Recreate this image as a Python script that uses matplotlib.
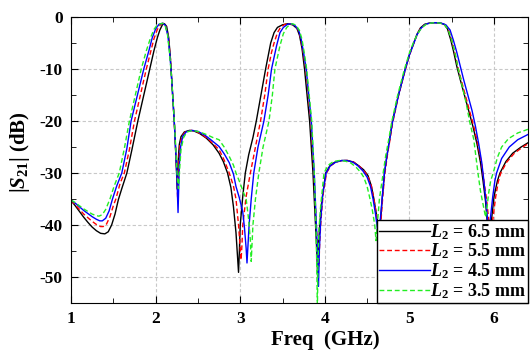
import matplotlib
matplotlib.use("Agg")
import matplotlib.pyplot as plt
from matplotlib.ticker import MultipleLocator

plt.rcParams.update({
    "font.family": "Liberation Serif",
    "font.weight": "bold",
    "axes.labelweight": "bold",
    "axes.unicode_minus": False,
    "mathtext.fontset": "custom",
    "mathtext.rm": "Liberation Serif:bold",
    "mathtext.it": "Liberation Serif:italic:bold",
    "mathtext.bf": "Liberation Serif:bold",
})

x_ticks = [1, 2, 3, 4, 5, 6]
x_ticklabels = ["1", "2", "3", "4", "5", "6"]
y_ticks = [-50, -40, -30, -20, -10, 0]
y_ticklabels = ["-50", "-40", "-30", "-20", "-10", "0"]

# |S21|, one list pair per L2 value
freq_65 = [1.00, 1.05, 1.10, 1.15, 1.20, 1.25, 1.30, 1.35, 1.40, 1.44, 1.48, 1.52, 1.56, 1.60, 1.66,
           1.72, 1.79, 1.86, 1.93, 1.98, 2.02, 2.05, 2.08, 2.105, 2.13, 2.155, 2.175, 2.19, 2.205, 2.22,
           2.235, 2.245, 2.255, 2.265, 2.28, 2.30, 2.34, 2.40, 2.45, 2.52, 2.60, 2.68, 2.75, 2.80, 2.85,
           2.89, 2.92, 2.95, 2.97, 2.98, 2.99, 3.00, 3.03, 3.06, 3.10, 3.15, 3.19, 3.25, 3.30, 3.36,
           3.40, 3.44, 3.50, 3.56, 3.62, 3.67, 3.70, 3.73, 3.76, 3.79, 3.82, 3.86, 3.89, 3.905, 3.915,
           3.925, 3.94, 3.96, 4.01, 4.06, 4.12, 4.20, 4.27, 4.34, 4.40, 4.46, 4.51, 4.55, 4.58, 4.61,
           4.63, 4.64, 4.645, 4.655, 4.68, 4.705, 4.735, 4.765, 4.80, 4.87, 4.95, 5.00, 5.05, 5.09, 5.13,
           5.18, 5.24, 5.30, 5.36, 5.41, 5.45, 5.49, 5.52, 5.56, 5.60, 5.65, 5.70, 5.75, 5.80, 5.84,
           5.87, 5.90, 5.92, 5.945, 5.97, 6.00, 6.04, 6.07, 6.14, 6.22, 6.32, 6.40]
s21_65 = [-35.3, -36.3, -37.4, -38.5, -39.5, -40.4, -41.1, -41.6, -41.7, -41.3, -40.0, -37.9, -35.1, -33.0, -30.0,
          -25.5, -20.0, -15.0, -10.0, -6.5, -4.0, -2.5, -1.5, -1.3, -1.8, -4.0, -8.0, -12.0, -16.0, -20.0,
          -25.0, -29.0, -33.0, -28.0, -24.5, -23.0, -22.1, -21.8, -21.9, -22.4, -23.3, -24.6, -26.2, -27.8, -30.0,
          -32.8, -36.5, -41.5, -46.5, -49.1, -45.0, -40.0, -34.5, -30.0, -26.5, -23.2, -20.0, -14.5, -10.0, -5.0,
          -3.0, -2.0, -1.5, -1.3, -1.5, -2.2, -3.5, -6.0, -10.0, -15.0, -20.0, -30.0, -40.0, -45.0, -50.0,
          -44.0, -40.0, -36.0, -30.0, -28.6, -27.9, -27.6, -27.6, -27.9, -28.6, -29.4, -30.5, -32.5, -35.0, -38.0,
          -40.0, -44.0, -48.0, -40.0, -34.5, -30.0, -26.6, -23.6, -20.0, -15.0, -10.0, -7.2, -5.0, -3.3, -2.1,
          -1.4, -1.15, -1.1, -1.15, -1.4, -2.3, -4.5, -6.5, -9.5, -12.0, -15.0, -18.0, -21.0, -24.5, -28.0,
          -31.5, -35.5, -39.5, -44.0, -39.0, -34.5, -31.5, -30.0, -27.8, -26.2, -25.0, -24.2]

freq_55 = [1.00, 1.05, 1.10, 1.15, 1.20, 1.25, 1.30, 1.35, 1.38, 1.42, 1.46, 1.50, 1.53, 1.58, 1.63,
           1.69, 1.75, 1.82, 1.89, 1.94, 1.98, 2.02, 2.06, 2.09, 2.12, 2.15, 2.175, 2.19, 2.205, 2.22,
           2.235, 2.25, 2.26, 2.27, 2.285, 2.31, 2.35, 2.42, 2.48, 2.55, 2.63, 2.70, 2.75, 2.81, 2.87,
           2.92, 2.95, 2.98, 3.00, 3.01, 3.02, 3.03, 3.07, 3.12, 3.18, 3.24, 3.29, 3.33, 3.37, 3.40,
           3.44, 3.48, 3.53, 3.58, 3.63, 3.68, 3.71, 3.74, 3.775, 3.805, 3.835, 3.87, 3.90, 3.915, 3.93,
           3.94, 3.955, 3.98, 4.02, 4.07, 4.13, 4.20, 4.27, 4.34, 4.40, 4.46, 4.51, 4.55, 4.58, 4.61,
           4.63, 4.645, 4.66, 4.685, 4.71, 4.74, 4.77, 4.80, 4.87, 4.95, 5.00, 5.05, 5.09, 5.13, 5.18,
           5.24, 5.30, 5.36, 5.42, 5.46, 5.50, 5.53, 5.57, 5.61, 5.66, 5.71, 5.76, 5.81, 5.85, 5.88,
           5.915, 5.94, 5.96, 5.985, 6.02, 6.05, 6.08, 6.15, 6.24, 6.34, 6.40]
s21_55 = [-35.3, -36.1, -37.0, -37.9, -38.6, -39.3, -39.9, -40.3, -40.3, -39.8, -38.4, -36.3, -35.0, -32.0, -30.0,
          -25.5, -20.0, -15.0, -10.0, -6.8, -4.2, -2.4, -1.4, -1.2, -1.7, -3.8, -8.0, -12.0, -16.0, -20.0,
          -25.0, -30.0, -34.8, -29.0, -24.8, -23.0, -22.1, -21.8, -22.0, -22.6, -23.6, -24.7, -25.5, -27.5, -30.0,
          -32.5, -35.0, -40.0, -44.5, -46.7, -44.0, -40.0, -34.5, -30.0, -25.0, -20.0, -15.0, -10.0, -6.8, -5.0,
          -3.0, -1.9, -1.4, -1.3, -1.5, -2.3, -3.8, -6.5, -10.0, -15.0, -20.0, -30.0, -40.0, -45.0, -48.0,
          -43.0, -39.0, -34.0, -30.0, -28.6, -27.9, -27.6, -27.6, -27.9, -28.6, -29.5, -30.7, -32.5, -35.0, -38.0,
          -40.5, -45.0, -40.0, -34.5, -30.0, -26.5, -23.6, -20.5, -15.2, -10.2, -7.4, -5.1, -3.4, -2.2, -1.5,
          -1.15, -1.1, -1.15, -1.5, -2.4, -4.4, -6.4, -9.4, -12.0, -15.0, -18.0, -21.0, -24.5, -28.0, -31.5,
          -35.5, -39.5, -44.0, -39.0, -34.5, -31.7, -30.0, -27.9, -26.2, -25.0, -24.4]

freq_45 = [1.00, 1.05, 1.10, 1.15, 1.20, 1.25, 1.30, 1.34, 1.37, 1.41, 1.45, 1.49, 1.54, 1.60, 1.66,
           1.71, 1.785, 1.86, 1.92, 1.96, 2.00, 2.04, 2.085, 2.115, 2.145, 2.17, 2.19, 2.205, 2.22, 2.235,
           2.25, 2.258, 2.265, 2.272, 2.28, 2.295, 2.32, 2.36, 2.43, 2.50, 2.58, 2.66, 2.75, 2.81, 2.87,
           2.92, 2.95, 2.99, 3.03, 3.05, 3.07, 3.08, 3.09, 3.105, 3.13, 3.16, 3.21, 3.28, 3.33, 3.37,
           3.43, 3.47, 3.51, 3.56, 3.60, 3.645, 3.69, 3.72, 3.75, 3.78, 3.81, 3.84, 3.875, 3.90, 3.915,
           3.925, 3.935, 3.95, 3.975, 4.015, 4.065, 4.13, 4.20, 4.26, 4.33, 4.39, 4.45, 4.50, 4.54, 4.57,
           4.60, 4.62, 4.635, 4.65, 4.68, 4.705, 4.735, 4.765, 4.80, 4.87, 4.95, 5.00, 5.05, 5.09, 5.14,
           5.19, 5.25, 5.31, 5.37, 5.43, 5.48, 5.52, 5.56, 5.60, 5.64, 5.69, 5.74, 5.78, 5.82, 5.855,
           5.88, 5.905, 5.925, 5.935, 5.955, 5.985, 6.01, 6.03, 6.09, 6.18, 6.28, 6.40]
s21_45 = [-35.2, -35.8, -36.5, -37.2, -37.8, -38.4, -38.9, -39.2, -39.2, -38.7, -37.3, -35.0, -32.5, -30.0, -25.3,
          -20.0, -15.0, -10.0, -6.5, -4.0, -2.3, -1.4, -1.2, -1.6, -3.6, -7.5, -12.0, -16.0, -20.0, -25.0,
          -30.0, -34.0, -37.6, -33.0, -28.5, -25.0, -23.0, -22.1, -21.8, -22.0, -22.7, -23.7, -24.9, -26.3, -28.0,
          -30.2, -32.6, -34.8, -37.5, -40.5, -44.5, -47.3, -44.5, -40.0, -35.0, -30.0, -25.0, -20.0, -15.0, -10.0,
          -5.5, -3.0, -2.0, -1.4, -1.3, -1.6, -2.5, -4.2, -7.0, -10.0, -15.0, -20.0, -30.0, -40.0, -46.0,
          -51.8, -45.0, -39.5, -34.0, -30.0, -28.6, -27.9, -27.6, -27.6, -27.9, -28.6, -29.6, -30.8, -32.6, -35.0,
          -38.0, -40.5, -45.0, -40.0, -34.5, -30.0, -26.6, -23.6, -20.2, -15.1, -10.1, -7.3, -5.1, -3.4, -2.1,
          -1.4, -1.15, -1.1, -1.15, -1.5, -2.5, -4.5, -6.8, -9.4, -12.0, -15.0, -18.0, -21.0, -24.5, -28.0,
          -31.5, -35.5, -39.5, -44.0, -39.0, -34.5, -31.5, -30.0, -27.2, -25.0, -23.6, -22.6]

freq_35 = [1.00, 1.05, 1.10, 1.15, 1.20, 1.25, 1.30, 1.33, 1.37, 1.41, 1.46, 1.51, 1.57, 1.63, 1.69,
           1.76, 1.83, 1.89, 1.94, 1.98, 2.02, 2.08, 2.11, 2.14, 2.165, 2.19, 2.205, 2.225, 2.24, 2.255,
           2.27, 2.285, 2.30, 2.33, 2.37, 2.44, 2.52, 2.60, 2.68, 2.75, 2.81, 2.87, 2.92, 2.95, 3.00,
           3.04, 3.07, 3.10, 3.12, 3.13, 3.14, 3.15, 3.18, 3.22, 3.27, 3.34, 3.38, 3.41, 3.47, 3.51,
           3.55, 3.59, 3.62, 3.66, 3.70, 3.73, 3.76, 3.785, 3.815, 3.845, 3.875, 3.895, 3.905, 3.912, 3.918,
           3.93, 3.95, 3.99, 4.04, 4.10, 4.17, 4.24, 4.31, 4.37, 4.42, 4.46, 4.50, 4.53, 4.56, 4.59,
           4.605, 4.62, 4.645, 4.69, 4.72, 4.755, 4.79, 4.86, 4.94, 5.00, 5.05, 5.10, 5.15, 5.20, 5.26,
           5.31, 5.37, 5.42, 5.46, 5.50, 5.54, 5.57, 5.62, 5.67, 5.71, 5.76, 5.81, 5.84, 5.87, 5.90,
           5.915, 5.935, 5.96, 5.99, 6.04, 6.09, 6.17, 6.28, 6.40]
s21_35 = [-35.2, -35.7, -36.3, -36.9, -37.4, -37.9, -38.2, -38.3, -38.0, -37.0, -35.0, -32.5, -30.0, -25.3, -20.0,
          -15.0, -10.0, -6.5, -4.0, -2.4, -1.5, -1.2, -1.5, -3.3, -7.0, -12.0, -16.0, -21.0, -26.0, -30.5,
          -33.0, -29.0, -25.5, -23.2, -22.1, -21.8, -22.1, -22.6, -23.2, -23.6, -25.0, -26.8, -28.5, -30.0, -32.0,
          -33.8, -35.0, -39.0, -43.0, -47.0, -43.5, -40.0, -35.0, -30.0, -25.0, -20.0, -15.0, -10.0, -5.5, -3.2,
          -2.0, -1.4, -1.3, -1.6, -2.6, -4.3, -7.2, -10.0, -15.0, -20.0, -30.0, -40.0, -48.0, -56.0, -48.0,
          -41.0, -36.5, -30.0, -28.5, -27.8, -27.6, -27.7, -28.1, -28.9, -29.8, -30.8, -32.6, -34.7, -37.0, -40.0,
          -43.0, -40.0, -35.0, -30.0, -26.6, -23.6, -20.2, -15.1, -10.1, -6.9, -4.8, -3.1, -2.0, -1.4, -1.15,
          -1.1, -1.2, -1.6, -2.5, -4.5, -7.0, -9.5, -13.0, -16.5, -20.0, -23.5, -30.0, -33.5, -36.0, -38.5,
          -37.0, -34.0, -31.5, -30.0, -27.0, -25.0, -23.4, -22.3, -21.6]

fig = plt.figure(figsize=(5.3, 3.54), dpi=100)
ax = fig.add_axes([0.134, 0.144, 0.862, 0.808])

lw = 1.0
ax.plot(freq_65, s21_65, color="black", lw=lw, label=r"$L_2$ = 6.5 mm")
ax.plot(freq_55, s21_55, color="#ff0000", lw=lw, dashes=(3.5, 2), label=r"$L_2$ = 5.5 mm")
ax.plot(freq_45, s21_45, color="#0000ff", lw=lw, label=r"$L_2$ = 4.5 mm")
ax.plot(freq_35, s21_35, color="#22ee22", lw=lw, dashes=(3.5, 2), label=r"$L_2$ = 3.5 mm")

ax.set_xlim(1, 6.4)
ax.set_ylim(-55, 0)
ax.set_xticks(x_ticks, labels=x_ticklabels, fontsize=12.5, fontweight="bold")
ax.set_yticks(y_ticks, labels=y_ticklabels, fontsize=12.5, fontweight="bold")
ax.xaxis.set_minor_locator(MultipleLocator(0.5))
ax.yaxis.set_minor_locator(MultipleLocator(5))
ax.tick_params(which="both", direction="in", top=True, right=True, pad=6)
ax.tick_params(which="major", length=5)
ax.tick_params(which="minor", length=3.5)
ax.grid(True, which="major", color="#c8c8c8", linestyle=(0, (3, 2)), linewidth=0.8)
ax.set_axisbelow(True)

ax.set_xlabel("Freq  (GHz)", fontsize=15, fontweight="bold")
ax.xaxis.set_label_coords(0.556, -0.095)
ax.set_ylabel(r"|$S_{21}$| (dB)", fontsize=15, fontweight="bold")
ax.yaxis.set_label_coords(-0.085, 0.528)

leg = ax.legend(loc="lower right", prop={"size": 13, "weight": "bold"}, frameon=True, fancybox=False,
                edgecolor="black", framealpha=1, borderaxespad=0, handlelength=2.8, handletextpad=0.0,
                labelspacing=0.0, borderpad=0.12)
leg.get_frame().set_linewidth(1.0)

fig.savefig("out.png", dpi=100)
